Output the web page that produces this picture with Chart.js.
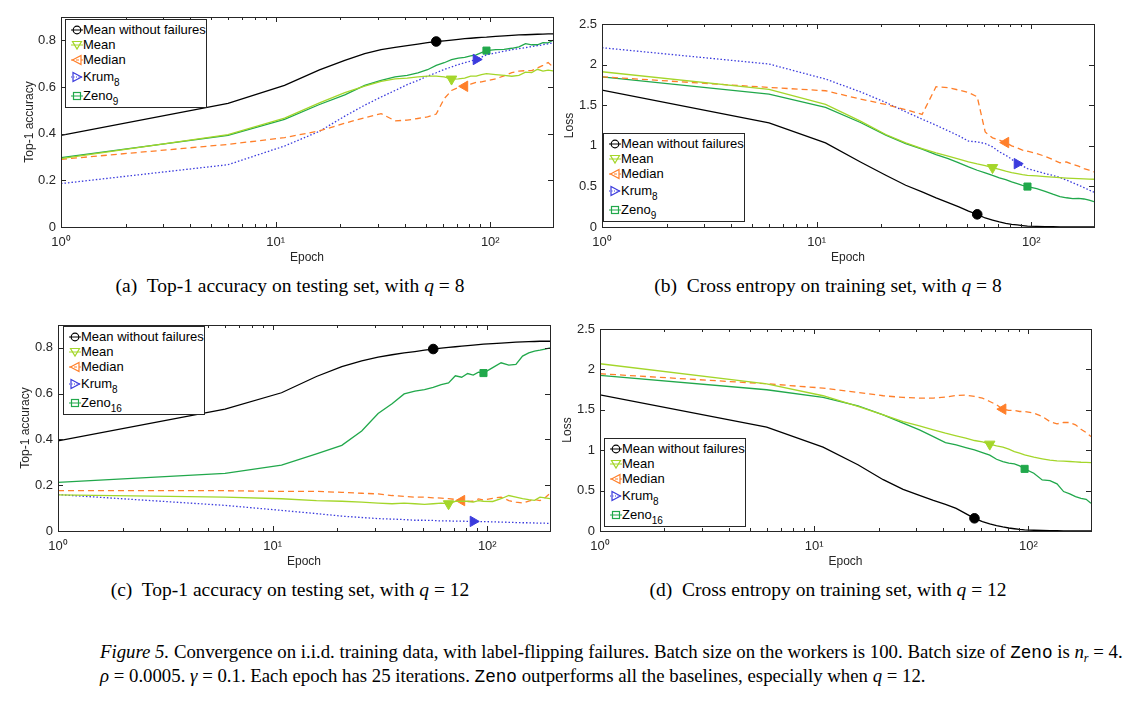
<!DOCTYPE html>
<html>
<head>
<meta charset="utf-8">
<script src="https://cdn.jsdelivr.net/npm/chart.js@4.4.1/dist/chart.umd.min.js"></script>
<style>
  body { margin: 0; width: 1140px; height: 705px; background: #fff; position: relative; overflow: hidden; font-family: 'Liberation Sans', Arial, sans-serif; }
  canvas { position: absolute; }
  .legend { position: absolute; background: #fff; border: 1px solid #262626; box-sizing: border-box; width: 142px; height: 89px; font-size: 13px; color: #000; }
  .legend .row { position: absolute; left: 0; height: 16px; line-height: 16px; white-space: nowrap; }
  .legend svg { position: absolute; left: 3px; top: 0; }
  .legend .txt { position: absolute; left: 17px; top: 0; }
  .legend sub { font-size: 10px; vertical-align: baseline; position: relative; top: 5px; }
  .cap { position: absolute; width: 600px; text-align: center; font-family: 'Liberation Serif', 'Times New Roman', serif; font-size: 19.5px; line-height: 20px; white-space: nowrap; color: #000; }
  .fig { position: absolute; left: 100px; top: 641px; font-family: 'Liberation Serif', 'Times New Roman', serif; font-size: 18.8px; line-height: 21px; white-space: nowrap; color: #000; }
  .fig sub { font-size: 0.65em; vertical-align: baseline; position: relative; top: 4px; }
  .mono { font-family: 'Liberation Mono', monospace; font-size: 0.94em; }
</style>
</head>
<body>
<div class="cap" style="left:-10px; top:276px;">(a)&nbsp; Top-1 accuracy on testing set, with <i>q</i> = 8</div>
<div class="cap" style="left:528px; top:276px;">(b)&nbsp; Cross entropy on training set, with <i>q</i> = 8</div>
<div class="cap" style="left:-10px; top:580px;">(c)&nbsp; Top-1 accuracy on testing set, with <i>q</i> = 12</div>
<div class="cap" style="left:528px; top:580px;">(d)&nbsp; Cross entropy on training set, with <i>q</i> = 12</div>
<div class="fig"><i>Figure 5.</i> Convergence on i.i.d. training data, with label-flipping failures. Batch size on the workers is 100. Batch size of <span class="mono">Zeno</span> is <i>n<sub>r</sub></i> = 4.<br><i>ρ</i> = 0.0005. <i>γ</i> = 0.1. Each epoch has 25 iterations. <span class="mono">Zeno</span> outperforms all the baselines, especially when <i>q</i> = 12.</div>

<script>
// epochs where values were logged
const epochs = [1, 6, 11, 16, 21, 26, 31, 36, 41, 46, 51, 56, 61, 66, 71, 76, 81, 86, 91, 96, 106, 116, 126, 136, 146, 156, 166, 176, 186, 196];
const xMajorTicks = [1, 10, 100];
const xTickLabels = ['10⁰', '10¹', '10²'];
const xMinorTicks = [2, 3, 4, 5, 6, 7, 8, 9, 20, 30, 40, 50, 60, 70, 80, 90];
const accTicks = [0, 0.2, 0.4, 0.6, 0.8];
const lossTicks = [0, 0.5, 1, 1.5, 2, 2.5];
const seriesNames = ['Mean without failures', 'Mean', 'Median', 'Krum', 'Zeno'];
const markerEpochs = [56, 66, 76, 86, 96];

// (a) top-1 accuracy, q = 8
const accMeanNoFail8 = [0.393, 0.530, 0.607, 0.673, 0.714, 0.743, 0.760, 0.770, 0.777, 0.784, 0.790, 0.795, 0.798, 0.801, 0.804, 0.807, 0.809, 0.811, 0.813, 0.814, 0.817, 0.819, 0.821, 0.823, 0.824, 0.825, 0.826, 0.827, 0.828, 0.828];
const accMean8 = [0.293, 0.396, 0.467, 0.532, 0.576, 0.604, 0.624, 0.635, 0.638, 0.643, 0.647, 0.647, 0.643, 0.634, 0.635, 0.638, 0.647, 0.647, 0.653, 0.657, 0.653, 0.650, 0.646, 0.650, 0.664, 0.662, 0.676, 0.668, 0.672, 0.669];
const accMedian8 = [0.290, 0.354, 0.383, 0.412, 0.445, 0.468, 0.486, 0.455, 0.458, 0.465, 0.472, 0.484, 0.550, 0.585, 0.598, 0.603, 0.612, 0.620, 0.622, 0.627, 0.635, 0.648, 0.662, 0.668, 0.670, 0.670, 0.682, 0.693, 0.705, 0.686];
const accKrum8 = [0.186, 0.267, 0.347, 0.410, 0.475, 0.522, 0.557, 0.585, 0.610, 0.628, 0.647, 0.661, 0.675, 0.686, 0.696, 0.704, 0.711, 0.718, 0.728, 0.738, 0.746, 0.753, 0.760, 0.764, 0.769, 0.773, 0.777, 0.781, 0.785, 0.789];
const accZeno8 = [0.297, 0.393, 0.461, 0.525, 0.566, 0.607, 0.628, 0.643, 0.650, 0.661, 0.674, 0.693, 0.704, 0.717, 0.724, 0.727, 0.733, 0.738, 0.747, 0.756, 0.760, 0.761, 0.766, 0.772, 0.786, 0.781, 0.781, 0.790, 0.789, 0.800];

// (b) cross entropy, q = 8
const lossMeanNoFail8 = [1.686, 1.283, 1.036, 0.800, 0.637, 0.514, 0.432, 0.358, 0.300, 0.247, 0.195, 0.156, 0.111, 0.086, 0.062, 0.045, 0.033, 0.025, 0.018, 0.012, 0.008, 0.005, 0.003, 0.002, 0.001, 0.001, 0.000, 0.000, 0.000, 0.000];
const lossMean8 = [1.912, 1.694, 1.509, 1.303, 1.139, 1.036, 0.966, 0.913, 0.872, 0.835, 0.802, 0.777, 0.757, 0.732, 0.711, 0.687, 0.670, 0.658, 0.646, 0.637, 0.629, 0.621, 0.613, 0.607, 0.602, 0.598, 0.595, 0.592, 0.590, 0.588];
const lossMedian8 = [1.850, 1.719, 1.678, 1.575, 1.509, 1.445, 1.386, 1.727, 1.715, 1.686, 1.657, 1.604, 1.170, 1.098, 1.070, 1.040, 0.999, 0.975, 0.946, 0.933, 0.905, 0.870, 0.830, 0.790, 0.800, 0.770, 0.750, 0.720, 0.700, 0.678];
const lossKrum8 = [2.208, 2.007, 1.822, 1.665, 1.534, 1.419, 1.328, 1.254, 1.184, 1.123, 1.057, 1.049, 1.028, 0.987, 0.925, 0.884, 0.835, 0.780, 0.752, 0.720, 0.687, 0.658, 0.635, 0.610, 0.578, 0.545, 0.515, 0.485, 0.455, 0.428];
const lossZeno8 = [1.850, 1.637, 1.472, 1.287, 1.131, 1.028, 0.958, 0.892, 0.843, 0.789, 0.740, 0.699, 0.666, 0.637, 0.604, 0.584, 0.555, 0.535, 0.514, 0.498, 0.473, 0.440, 0.405, 0.375, 0.360, 0.350, 0.352, 0.345, 0.330, 0.312];

// (c) top-1 accuracy, q = 12
const accMeanNoFail12 = [0.394, 0.532, 0.604, 0.675, 0.718, 0.743, 0.760, 0.770, 0.778, 0.784, 0.790, 0.795, 0.799, 0.802, 0.805, 0.808, 0.810, 0.812, 0.814, 0.816, 0.819, 0.821, 0.823, 0.825, 0.826, 0.827, 0.828, 0.829, 0.829, 0.829];
const accMean12 = [0.158, 0.148, 0.141, 0.133, 0.130, 0.126, 0.122, 0.119, 0.122, 0.119, 0.116, 0.119, 0.122, 0.119, 0.129, 0.130, 0.130, 0.126, 0.133, 0.130, 0.129, 0.141, 0.155, 0.148, 0.141, 0.137, 0.134, 0.148, 0.145, 0.141];
const accMedian12 = [0.176, 0.176, 0.173, 0.173, 0.169, 0.165, 0.162, 0.155, 0.151, 0.148, 0.148, 0.145, 0.144, 0.141, 0.138, 0.133, 0.129, 0.130, 0.140, 0.136, 0.143, 0.148, 0.133, 0.126, 0.122, 0.131, 0.138, 0.133, 0.145, 0.165];
const accKrum12 = [0.159, 0.112, 0.090, 0.076, 0.065, 0.059, 0.054, 0.052, 0.050, 0.047, 0.047, 0.046, 0.044, 0.044, 0.043, 0.043, 0.042, 0.042, 0.041, 0.041, 0.040, 0.039, 0.038, 0.037, 0.036, 0.036, 0.035, 0.034, 0.034, 0.033];
const accZeno12 = [0.212, 0.252, 0.288, 0.337, 0.374, 0.437, 0.513, 0.556, 0.599, 0.611, 0.618, 0.627, 0.639, 0.647, 0.678, 0.672, 0.688, 0.681, 0.694, 0.690, 0.714, 0.735, 0.725, 0.728, 0.764, 0.778, 0.786, 0.790, 0.795, 0.800];

// (d) cross entropy, q = 12 (Krum is off the scale)
const lossMeanNoFail12 = [1.686, 1.285, 1.037, 0.820, 0.635, 0.515, 0.440, 0.378, 0.330, 0.280, 0.215, 0.157, 0.115, 0.088, 0.066, 0.050, 0.037, 0.028, 0.020, 0.014, 0.009, 0.006, 0.004, 0.003, 0.002, 0.001, 0.001, 0.000, 0.000, 0.000];
const lossMean12 = [2.070, 1.822, 1.674, 1.541, 1.438, 1.355, 1.302, 1.252, 1.211, 1.178, 1.149, 1.120, 1.103, 1.075, 1.054, 1.037, 1.012, 0.983, 0.963, 0.942, 0.913, 0.893, 0.876, 0.868, 0.864, 0.860, 0.856, 0.851, 0.849, 0.847];
const lossMedian12 = [1.946, 1.822, 1.769, 1.715, 1.674, 1.653, 1.645, 1.645, 1.657, 1.678, 1.682, 1.665, 1.645, 1.603, 1.562, 1.508, 1.492, 1.492, 1.479, 1.479, 1.459, 1.417, 1.355, 1.326, 1.343, 1.343, 1.314, 1.260, 1.219, 1.169];
const lossZeno12 = [1.926, 1.748, 1.653, 1.550, 1.438, 1.335, 1.252, 1.169, 1.095, 1.066, 1.033, 1.004, 0.971, 0.938, 0.888, 0.860, 0.839, 0.830, 0.806, 0.769, 0.715, 0.632, 0.624, 0.583, 0.488, 0.459, 0.426, 0.405, 0.393, 0.343];

// line / marker look, same order as seriesNames
const styles = [
  { color: '#000000', dash: [], point: 'circle', rot: 0, r: 4.8 },
  { color: '#a4d62a', dash: [], point: 'triangle', rot: 180, r: 6 },
  { color: '#ff7f2a', dash: [6, 4], point: 'triangle', rot: 270, r: 6 },
  { color: '#3b3bdd', dash: [1.5, 2], point: 'triangle', rot: 90, r: 6 },
  { color: '#21a84b', dash: [], point: 'rect', rot: 0, r: 5 },
];

// legend glyphs (open markers with a short line through)
const glyphs = [
  '<circle cx="8" cy="8" r="3.8" fill="none" stroke-width="1.2"/>',
  '<polygon points="3.5,4.5 12.5,4.5 8,12" fill="none" stroke-width="1.2"/>',
  '<polygon points="3.5,8 12,3.5 12,12.5" fill="none" stroke-width="1.2"/>',
  '<polygon points="12.5,8 4,3.5 4,12.5" fill="none" stroke-width="1.2"/>',
  '<rect x="4.5" y="4.5" width="7" height="7" fill="none" stroke-width="1.2"/>',
];
const legendLineDash = ['', '', '3,2', '1,1.5', ''];
const legendRowY = [10, 25, 40, 57, 76];

const panels = [
  { left: 0, top: 0, w: 563, h: 267, yAxisW: 61, padTop: 17, yMax: 0.9, yTicks: accTicks, yTitle: 'Top-1 accuracy', titlePad: 22,
    series: [accMeanNoFail8, accMean8, accMedian8, accKrum8, accZeno8], subs: ['', '', '', '8', '9'], legend: [65, 19] },
  { left: 560, top: 0, w: 544, h: 267, yAxisW: 42, padTop: 24, yMax: 2.5, yTicks: lossTicks, yTitle: 'Loss', titlePad: 2,
    series: [lossMeanNoFail8, lossMean8, lossMedian8, lossKrum8, lossZeno8], subs: ['', '', '', '8', '9'], legend: [603, 133] },
  { left: 0, top: 290, w: 560, h: 281, yAxisW: 58, padTop: 35, yMax: 0.9, yTicks: accTicks, yTitle: 'Top-1 accuracy', titlePad: 18,
    series: [accMeanNoFail12, accMean12, accMedian12, accKrum12, accZeno12], subs: ['', '', '', '8', '16'], legend: [63, 326] },
  { left: 560, top: 290, w: 541, h: 281, yAxisW: 40, padTop: 39, yMax: 2.5, yTicks: lossTicks, yTitle: 'Loss', titlePad: 0,
    series: [lossMeanNoFail12, lossMean12, lossMedian12, null, lossZeno12], subs: ['', '', '', '8', '16'], legend: [604, 438] },
];

Chart.defaults.font.family = "'Liberation Sans', Arial, sans-serif";
Chart.defaults.color = '#262626';

// MATLAB-style box with inward tick marks on all four sides
const boxTicks = {
  id: 'boxTicks',
  afterDatasetsDraw(chart) {
    const { ctx, chartArea: a, scales: { x, y } } = chart;
    ctx.save();
    ctx.strokeStyle = '#262626';
    ctx.lineWidth = 1;
    ctx.setLineDash([]);
    ctx.beginPath();
    xMinorTicks.concat(xMajorTicks).forEach(v => {
      const px = Math.round(x.getPixelForValue(v)) + 0.5;
      const len = xMajorTicks.includes(v) ? 5 : 3;
      ctx.moveTo(px, a.bottom); ctx.lineTo(px, a.bottom - len);
      ctx.moveTo(px, a.top); ctx.lineTo(px, a.top + len);
    });
    y.ticks.forEach(t => {
      const py = Math.round(y.getPixelForValue(t.value)) + 0.5;
      ctx.moveTo(a.left, py); ctx.lineTo(a.left + 5, py);
      ctx.moveTo(a.right, py); ctx.lineTo(a.right - 5, py);
    });
    ctx.stroke();
    ctx.strokeRect(Math.round(a.left) + 0.5, Math.round(a.top) + 0.5, Math.round(a.right - a.left), Math.round(a.bottom - a.top));
    ctx.restore();
  }
};

panels.forEach(p => {
  const canvas = document.createElement('canvas');
  canvas.width = p.w;
  canvas.height = p.h;
  canvas.style.left = p.left + 'px';
  canvas.style.top = p.top + 'px';
  document.body.appendChild(canvas);

  const datasets = [];
  p.series.forEach((vals, i) => {
    if (!vals) return;
    const s = styles[i];
    datasets.push({
      label: seriesNames[i],
      data: vals.map((v, k) => ({ x: epochs[k], y: v })),
      borderColor: s.color,
      backgroundColor: s.color,
      borderWidth: 1.3,
      borderDash: s.dash,
      pointStyle: s.point,
      rotation: s.rot,
      pointRadius: ctx => epochs[ctx.dataIndex] === markerEpochs[i] ? s.r : 0,
      pointBorderWidth: 1,
      pointHoverRadius: 0,
      tension: 0,
    });
  });

  new Chart(canvas, {
    type: 'line',
    data: { datasets },
    options: {
      responsive: false,
      animation: false,
      layout: { padding: { top: p.padTop, right: 10, left: 0, bottom: 0 } },
      plugins: { legend: { display: false }, tooltip: { enabled: false } },
      scales: {
        x: {
          type: 'logarithmic',
          min: 1,
          max: 196,
          grid: { display: false, drawTicks: false },
          border: { display: false },
          afterBuildTicks: scale => { scale.ticks = xMajorTicks.map(v => ({ value: v })); },
          afterFit: scale => { scale.height = 40; },
          ticks: { autoSkip: false, maxRotation: 0, padding: 8, font: { size: 13 }, callback: (v, i) => xTickLabels[i] },
          title: { display: true, text: 'Epoch', font: { size: 12 }, padding: { top: 0, bottom: 2 } },
        },
        y: {
          min: 0,
          max: p.yMax,
          grid: { display: false, drawTicks: false },
          border: { display: false },
          afterBuildTicks: scale => { scale.ticks = p.yTicks.map(v => ({ value: v })); },
          afterFit: scale => { scale.width = p.yAxisW; },
          ticks: { padding: 5, font: { size: 13 }, callback: v => String(v) },
          title: { display: true, text: p.yTitle, font: { size: 12 }, padding: { top: p.titlePad, bottom: 0 } },
        },
      },
    },
    plugins: [boxTicks],
  });

  // boxed legend inside the axes
  const lg = document.createElement('div');
  lg.className = 'legend';
  lg.style.left = p.legend[0] + 'px';
  lg.style.top = p.legend[1] + 'px';
  seriesNames.forEach((name, i) => {
    const s = styles[i];
    const row = document.createElement('div');
    row.className = 'row';
    row.style.top = (legendRowY[i] - 8) + 'px';
    const dash = legendLineDash[i] ? ` stroke-dasharray="${legendLineDash[i]}"` : '';
    row.innerHTML =
      `<svg width="16" height="16" stroke="${s.color}"><line x1="2" y1="8" x2="14" y2="8" stroke-width="1"${dash}/>${glyphs[i]}</svg>` +
      `<span class="txt">${name}${p.subs[i] ? '<sub>' + p.subs[i] + '</sub>' : ''}</span>`;
    lg.appendChild(row);
  });
  document.body.appendChild(lg);
});
</script>
</body>
</html>
